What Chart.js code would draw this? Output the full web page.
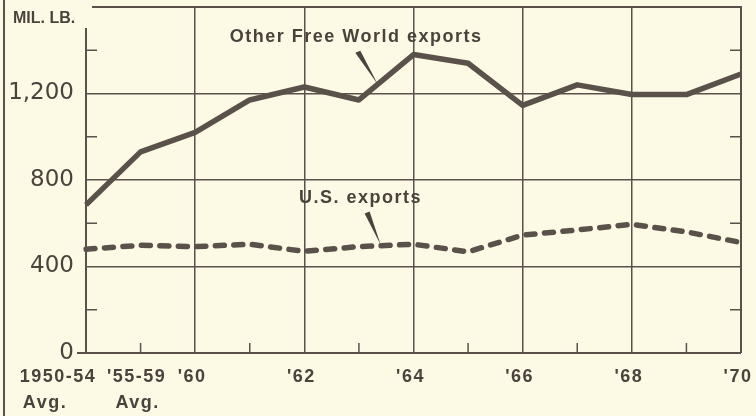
<!DOCTYPE html>
<html>
<head>
<meta charset="utf-8">
<script src="https://cdn.jsdelivr.net/npm/chart.js@4.4.1/dist/chart.umd.min.js"></script>
<style>
  html, body { margin: 0; padding: 0; background: #fcf9e5; }
  #wrap { position: relative; width: 756px; height: 416px; }
</style>
</head>
<body>
<div id="wrap"><canvas id="exportsChart" width="756" height="416"></canvas></div>
<script>
// --- Data (million lb.) ---
const years = ['1950-54', '1955-59', '1960', '1961', '1962', '1963', '1964',
               '1965', '1966', '1967', '1968', '1969', '1970'];
const tickLabels = [['1950-54', 'Avg.'], ["'55-59", 'Avg.'], ["'60"], [], ["'62"], [],
                    ["'64"], [], ["'66"], [], ["'68"], [], ["'70"]];
const otherFreeWorld = [685, 930, 1020, 1170, 1230, 1170, 1380, 1340, 1145, 1240, 1195, 1195, 1290];
const usExports = [480, 498, 492, 503, 470, 492, 503, 468, 545, 569, 595, 560, 511];
const yLabelTicks = [0, 400, 800, 1200];
const yMinorTicks = [200, 600, 1000, 1400];

const INK = '#5a524a';
const TEXT = '#4a433c';
const FONT = '"Liberation Sans", Arial, sans-serif';

// label placement in data units (category index, value)
const notes = [
    { text: 'Other Free World exports', x: 4.95, y: 1463, from: [4.98, 1393], to: [5.35, 1241] },
    { text: 'U.S. exports', x: 5.03, y: 718, from: [5.15, 650], to: [5.40, 500] }
];

// nudges for the bottom labels (px, relative to tick)
const labelNudge = { 0: [-28, -41], 1: [-4, -3] };

const framePlugin = {
    id: 'frame',
    beforeDatasetsDraw(chart) {
        const { ctx, chartArea: a, scales: { x, y } } = chart;
        ctx.save();
        ctx.strokeStyle = INK;
        ctx.lineWidth = 2;
        ctx.beginPath();
        // outer scan frame on the far left
        ctx.moveTo(4, 0); ctx.lineTo(4, 416);
        // top + right border
        ctx.moveTo(a.left + 6, a.top); ctx.lineTo(a.right, a.top); ctx.lineTo(a.right, a.bottom);
        // left axis (gap at top for the unit label)
        ctx.moveTo(a.left, a.top + 21); ctx.lineTo(a.left, a.bottom);
        // base line, running a bit past the y axis
        ctx.moveTo(a.left - 9, a.bottom); ctx.lineTo(a.right, a.bottom);
        ctx.stroke();

        // inner minor ticks
        ctx.lineWidth = 1.5;
        ctx.beginPath();
        yMinorTicks.forEach(v => {
            const py = y.getPixelForValue(v);
            ctx.moveTo(a.left, py); ctx.lineTo(a.left + 11, py);
            ctx.moveTo(a.right, py); ctx.lineTo(a.right - 11, py);
        });
        years.forEach((_, i) => {
            if (i % 2 === 1) {
                const px = x.getPixelForValue(i);
                ctx.moveTo(px, a.bottom); ctx.lineTo(px, a.bottom - 10);
            }
        });
        ctx.stroke();

        // unit label
        ctx.fillStyle = TEXT;
        ctx.font = 'bold 16px ' + FONT;
        ctx.textBaseline = 'middle';
        ctx.textAlign = 'left';
        ctx.fillText('MIL. LB.', 13, 19);
        ctx.restore();
    },
    afterDraw(chart) {
        const { ctx, scales: { x, y } } = chart;
        ctx.save();
        ctx.fillStyle = TEXT;
        ctx.textAlign = 'center';
        ctx.textBaseline = 'middle';

        // bottom category labels
        if ('letterSpacing' in ctx) ctx.letterSpacing = '1.5px';
        tickLabels.forEach((lines, i) => {
            const px = x.getPixelForValue(i);
            const nudge = labelNudge[i] || [-3, -3];
            lines.forEach((line, k) => {
                ctx.font = 'bold 18px ' + FONT;
                ctx.fillText(line, px + nudge[k], 377 + k * 26);
            });
        });

        // series labels + pointers
        ctx.font = 'bold 18px ' + FONT;
        if ('letterSpacing' in ctx) ctx.letterSpacing = '1.5px';
        notes.forEach(n => {
            ctx.fillText(n.text, x.getPixelForValue(n.x), y.getPixelForValue(n.y));
            const x1 = x.getPixelForValue(n.from[0]), y1 = y.getPixelForValue(n.from[1]);
            const x2 = x.getPixelForValue(n.to[0]), y2 = y.getPixelForValue(n.to[1]);
            ctx.beginPath();
            ctx.moveTo(x1 - 2.5, y1 + 1);
            ctx.lineTo(x1 + 2.5, y1 - 1);
            ctx.lineTo(x2, y2);
            ctx.closePath();
            ctx.fill();
        });
        ctx.restore();
    }
};

new Chart(document.getElementById('exportsChart'), {
    type: 'line',
    data: {
        labels: years,
        datasets: [
            {
                label: 'Other Free World exports',
                data: otherFreeWorld,
                borderColor: INK,
                borderWidth: 5.5,
                pointRadius: 0,
                tension: 0,
                borderJoinStyle: 'round'
            },
            {
                label: 'U.S. exports',
                data: usExports,
                borderColor: INK,
                borderWidth: 5.5,
                borderDash: [9, 9.5],
                borderCapStyle: 'round',
                pointRadius: 0,
                tension: 0
            }
        ]
    },
    options: {
        responsive: false,
        animation: false,
        devicePixelRatio: 1,
        layout: { padding: { top: 7, right: 15, left: 0, bottom: 0 } },
        plugins: { legend: { display: false }, tooltip: { enabled: false } },
        scales: {
            x: {
                offset: false,
                border: { display: false },
                ticks: { display: false },
                grid: {
                    drawTicks: false,
                    lineWidth: 1.5,
                    color: c => (c.index > 0 && c.index < years.length - 1 && c.index % 2 === 0) ? INK : 'transparent'
                },
                afterFit: s => { s.height = 63; s.paddingLeft = 0; s.paddingRight = 0; }
            },
            y: {
                min: 0,
                max: 1600,
                border: { display: false },
                ticks: {
                    stepSize: 200,
                    autoSkip: false,
                    padding: 12,
                    color: TEXT,
                    font: { family: '"DejaVu Sans", sans-serif', size: 23 },
                    callback: v => yLabelTicks.includes(v) ? v.toLocaleString('en-US') : ''
                },
                grid: {
                    drawTicks: false,
                    lineWidth: 1.5,
                    color: c => (c.tick && c.tick.value > 0 && yLabelTicks.includes(c.tick.value)) ? INK : 'transparent'
                },
                afterFit: s => { s.width = 86; s.paddingTop = 0; s.paddingBottom = 0; }
            }
        }
    },
    plugins: [framePlugin]
});
</script>
</body>
</html>
